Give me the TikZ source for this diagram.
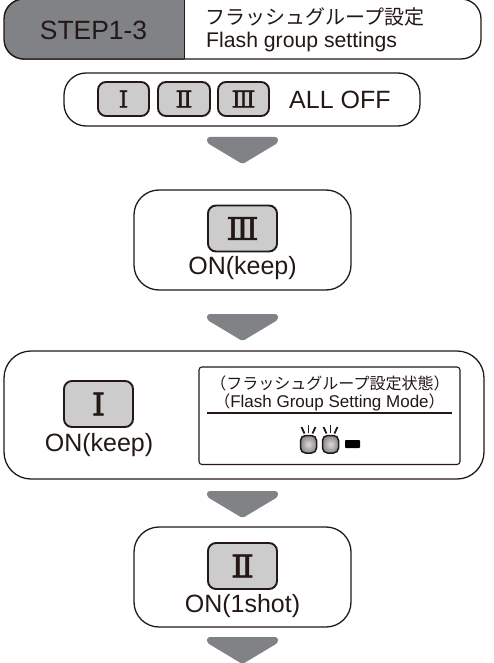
\documentclass[tikz,border=0pt]{standalone}
\usepackage{fontspec}
\setmainfont{Liberation Sans}
\newfontfamily\cjk{Noto Sans CJK JP}
\newfontfamily\numfont[FakeBold=1.6,FakeStretch=1.08]{DejaVu Serif}
\definecolor{ink}{HTML}{231815}
\definecolor{midgray}{HTML}{808285}
\definecolor{btn}{HTML}{CCCCCC}
\newcommand{\fs}[1]{\fontsize{#1}{#1}\selectfont}
\tikzset{
  x=1pt,y=-1pt,
  roundbox/.style={draw=ink,line width=1.3pt,fill=white},
  btnbox/.style={draw=ink,line width=1.9pt,fill=btn,rounded corners=8pt,minimum width=#1,inner sep=0pt},
  lbl/.style={text=ink,inner sep=0pt,anchor=center},
  downarrow/.style={fill=midgray,draw=midgray,line width=1pt,rounded corners=2.5pt},
  led/.style={draw=ink,line width=1.5pt,inner color=white!85!black,outer color=black!45,rounded corners=5pt},
  ray/.style={draw=ink,line width=1.8pt},
}
\newcommand{\arrowat}[1]{\draw[downarrow] (207.5,#1) -- (277.5,#1) -- (277.5,#1+5) -- (242.5,#1+26) -- (207.5,#1+5) -- cycle;}
\newcommand{\ledat}[1]{%
  \draw[led] (#1,435.5) rectangle (#1+16,453);
  \draw[ray] (#1+8,425) -- (#1+8,433);
  \draw[ray] (#1+1,427) -- (#1+4,433.5);
  \draw[ray] (#1+15,427) -- (#1+12,433.5);}
\begin{document}
\begin{tikzpicture}
\useasboundingbox (0,0) rectangle (494,663);
% header
\draw[roundbox,rounded corners=20pt] (4,-1) rectangle (481,59);
\begin{scope}
\clip (4,-20) rectangle (184,80);
\fill[midgray,rounded corners=20pt] (4,-1) rectangle (481,59);
\draw[ink,line width=1.3pt,rounded corners=20pt] (4,-1) rectangle (481,59);
\end{scope}
\draw[ink,line width=1pt] (184,-1) -- (184,59);
\node[lbl] (stepname) at (93.5,30) {\fs{26.4pt}STEP1-3};
\node[lbl,anchor=west] (titlejp) at (205,16.5) {\cjk\fs{20pt}フラッシュグループ設定};
\node[lbl,anchor=west] (titleen) at (206,42.5) {\fs{21.2pt}Flash group settings};
% all off
\draw[roundbox,rounded corners=22pt] (64,73) rectangle (420,126);
\node[btnbox=51pt,minimum height=34pt] (b1) at (123.5,99) {};
\node[btnbox=52pt,minimum height=34pt] (b2) at (184,99) {};
\node[btnbox=51pt,minimum height=34pt] (b3) at (243.5,99) {};
\node[lbl] at (b1) {\numfont\fs{23pt}Ⅰ};
\node[lbl] at (b2) {\numfont\fs{23pt}Ⅱ};
\node[lbl] at (b3) {\numfont\fs{23pt}Ⅲ};
\node[lbl,anchor=west] (alloff) at (289,100) {\fs{25pt}ALL OFF};
\arrowat{137.5}
% III
\draw[roundbox,rounded corners=25pt] (134,190) rectangle (351,290);
\node[btnbox=69pt,minimum height=46pt] (c3) at (242.5,228.5) {};
\node[lbl] at (c3) {\numfont\fs{31pt}Ⅲ};
\node[lbl] (on3) at (242.5,268.5) {\fs{25pt}ON(keep)};
\arrowat{314.5}
% large
\draw[roundbox,rounded corners=27pt] (4,351) rectangle (484,479);
\node[btnbox=69pt,minimum height=46pt] (c1) at (98.5,404) {};
\node[lbl] at (c1) {\numfont\fs{31pt}Ⅰ};
\node[lbl] (on1) at (99,445) {\fs{25pt}ON(keep)};
\draw[draw=ink,line width=1.1pt,rounded corners=3pt] (199,367) rectangle (460,464.5);
\node[lbl] (modejp) at (330,383) {\cjk\fs{16pt}（フラッシュグループ設定状態）};
\node[lbl] (modeen) at (329.5,402) {\cjk\fs{16pt}（{\rmfamily\fs{17pt}Flash Group Setting Mode}）};
\draw[ink,line width=1.2pt] (207,413) -- (452,413);
\ledat{300.5}
\ledat{322.5}
\fill[black,rounded corners=.8pt] (345,440) rectangle (360,448);
\arrowat{491.5}
% II
\draw[roundbox,rounded corners=25pt] (134,527) rectangle (351,627);
\node[btnbox=69pt,minimum height=46pt] (c2) at (242.5,566) {};
\node[lbl] at (c2) {\numfont\fs{31pt}Ⅱ};
\node[lbl] (on2) at (242.5,606) {\fs{25pt}ON(1shot)};
\arrowat{637.5}
\end{tikzpicture}
\end{document}
